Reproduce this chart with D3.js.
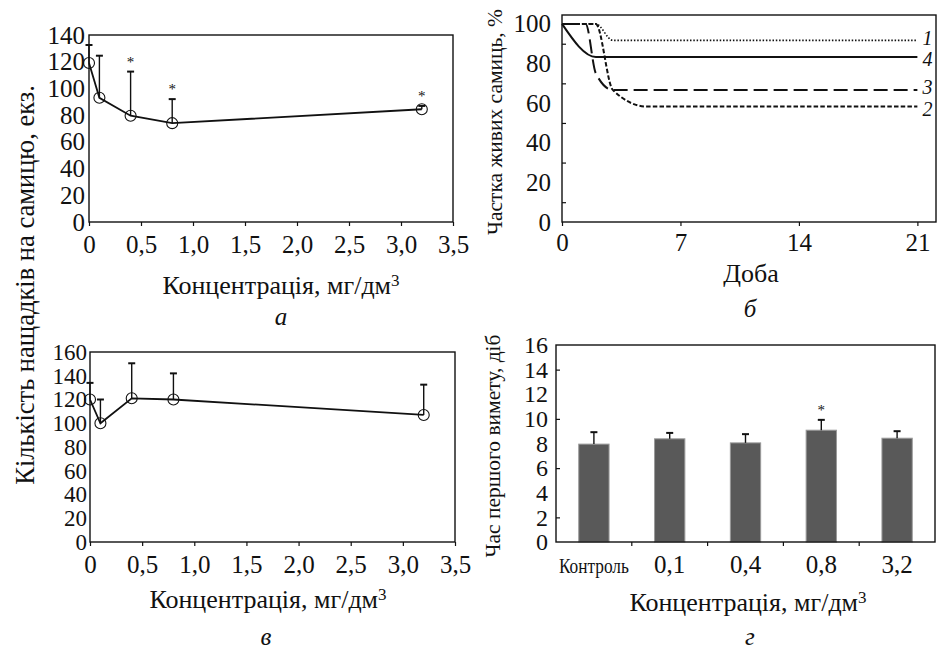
<!DOCTYPE html>
<html>
<head>
<meta charset="utf-8">
<script src="https://cdn.jsdelivr.net/npm/d3@7"></script>
<style>
	body { margin: 0; background: #fff; }
	text { font-family: "Liberation Serif", "DejaVu Serif", serif; fill: #111; }
</style>
</head>
<body>
<script>
// panel а: offspring per female vs concentration
var concA = [0, 0.1, 0.4, 0.8, 3.2],
	offspringA = [119, 93, 79.6, 74, 84.4],
	offspringErrA = [13.5, 31.5, 33, 18, 2.5],
	signifA = [0, 0, 1, 1, 1];

// panel в
var concC = [0, 0.1, 0.4, 0.8, 3.2],
	offspringC = [120, 100, 121, 120, 107],
	offspringErrC = [14, 20, 29.5, 22, 25.5],
	signifC = [0, 0, 0, 0, 0];

// panel б: survival of females, %
var survNames = ["1", "2", "3", "4"],
	survDays1 = [0, 2, 3, 21], surv1 = [100, 100, 91.7, 91.7],
	survDays2 = [0, 2, 3, 5, 21], surv2 = [100, 100, 66.7, 58.3, 58.3],
	survDays3 = [0, 1.4, 2, 3, 21], surv3 = [100, 100, 75, 66.7, 66.7],
	survDays4 = [0, 2, 21], surv4 = [100, 83.3, 83.3];

// panel г: time to first brood, days
var doseLabels = ["Контроль", "0,1", "0,4", "0,8", "3,2"],
	firstBrood = [7.95, 8.38, 8.05, 9.08, 8.43],
	firstBroodErr = [0.97, 0.48, 0.71, 0.84, 0.57],
	signifD = [0, 0, 0, 1, 0];

var concTicks = [0, 0.5, 1, 1.5, 2, 2.5, 3, 3.5],
	dayTicks = [0, 7, 14, 21];

var tickSize = 25, titleSize = 26;

var svg = d3.select("body").append("svg")
	.attr("width", 937)
	.attr("height", 653);

var comma = d => d === 0 ? "0" : d3.format(".1f")(d).replace(".", ",");

function frame(g, box) {
	g.append("rect")
		.attr("x", box.l).attr("y", box.t)
		.attr("width", box.r - box.l).attr("height", box.b - box.t)
		.attr("fill", "none").attr("stroke", "#111").attr("stroke-width", 1.4);
}

function styleTicks(sel, size) {
	sel.attr("font-family", null);
	sel.select(".domain").remove();
	sel.selectAll(".tick line").attr("stroke", "#111").attr("stroke-width", 1.2);
	sel.selectAll(".tick text").attr("font-size", size || tickSize).attr("fill", "#111");
}

function axisTitle(g, x, y, label, sup) {
	var t = g.append("text")
		.attr("x", x).attr("y", y)
		.attr("text-anchor", "middle")
		.attr("font-size", titleSize)
		.text(label);
	if (sup) t.append("tspan").attr("dy", "-0.5em").attr("font-size", 17).text(sup);
}

function panelLetter(g, x, y, s) {
	g.append("text")
		.attr("x", x).attr("y", y)
		.attr("text-anchor", "middle")
		.attr("font-size", 25)
		.attr("font-style", "italic")
		.text(s);
}

function concPanel(box, yMax, conc, vals, errs, signif, ypad) {
	var g = svg.append("g");

	var x = d3.scaleLinear().domain([0, 3.5]).range([box.l, box.r]),
		y = d3.scaleLinear().domain([0, yMax]).range([box.b, box.t]);

	// keep tick labels from overlapping when the spacing is tight
	var ySize = Math.min(tickSize, Math.floor(y(0) - y(20)));

	g.append("g")
		.attr("transform", "translate(0," + box.b + ")")
		.call(d3.axisBottom(x).tickValues(concTicks).tickSize(4).tickPadding(9).tickFormat(comma))
		.call(s => styleTicks(s));

	g.append("g")
		.attr("transform", "translate(" + box.l + ",0)")
		.call(d3.axisLeft(y).tickValues(d3.range(0, yMax + 1, 20)).tickSize(0).tickPadding(ypad))
		.call(s => styleTicks(s, ySize));

	frame(g, box);

	var pts = conc.map((c, i) => ({c: c, v: vals[i], e: errs[i], s: signif[i]}));

	var err = g.selectAll(".err").data(pts).enter().append("g")
		.attr("stroke", "#111").attr("stroke-width", 1.4);
	err.append("line")
		.attr("x1", d => x(d.c)).attr("x2", d => x(d.c))
		.attr("y1", d => y(d.v)).attr("y2", d => y(d.v + d.e));
	err.append("line")
		.attr("x1", d => x(d.c) - 3.5).attr("x2", d => x(d.c) + 3.5)
		.attr("y1", d => y(d.v + d.e)).attr("y2", d => y(d.v + d.e))
		.attr("stroke-width", 2);

	g.append("path")
		.datum(pts)
		.attr("fill", "none").attr("stroke", "#111").attr("stroke-width", 1.8)
		.attr("d", d3.line().x(d => x(d.c)).y(d => y(d.v)));

	g.selectAll(".pt").data(pts).enter().append("circle")
		.attr("cx", d => x(d.c)).attr("cy", d => y(d.v)).attr("r", 5.5)
		.attr("fill", "none").attr("stroke", "#111").attr("stroke-width", 1.1);

	g.selectAll(".star").data(pts.filter(d => d.s)).enter().append("text")
		.attr("x", d => x(d.c)).attr("y", d => y(d.v + d.e) - 5)
		.attr("text-anchor", "middle").attr("font-size", 15)
		.attr("fill", "#111")
		.text("*");
}

// а
concPanel({l: 89, r: 453, t: 35, b: 222}, 140, concA, offspringA, offspringErrA, signifA, 4);
axisTitle(svg, 281, 294, "Концентрація, мг/дм", "3");
panelLetter(svg, 281, 325, "а");

// в
concPanel({l: 90, r: 455, t: 352, b: 542}, 160, concC, offspringC, offspringErrC, signifC, 3);
axisTitle(svg, 268, 608, "Концентрація, мг/дм", "3");
panelLetter(svg, 266, 645, "в");

// shared y title of а and в
svg.append("text")
	.attr("transform", "translate(25,285) rotate(-90)")
	.attr("text-anchor", "middle")
	.attr("dominant-baseline", "central")
	.attr("font-size", 26.5)
	.text("Кількість нащадків на самицю, екз.");

// б
(function() {
	var box = {l: 562, r: 936, t: 15, b: 222};
	var g = svg.append("g");
	var x = d3.scaleLinear().domain([0, 22.1]).range([box.l, box.r]),
		y = d3.scaleLinear().domain([0, 104.5]).range([box.b, box.t]);

	g.append("g")
		.attr("transform", "translate(0," + box.b + ")")
		.call(d3.axisBottom(x).tickValues(dayTicks).tickSize(4).tickPadding(7))
		.call(s => styleTicks(s));

	g.append("g")
		.attr("transform", "translate(" + box.l + ",0)")
		.call(d3.axisLeft(y).tickValues(d3.range(0, 101, 20)).tickSize(0).tickPadding(11))
		.call(s => styleTicks(s));

	g.append("g")
		.attr("transform", "translate(" + box.l + ",0)")
		.call(d3.axisLeft(y).tickValues(d3.range(10, 100, 20)).tickSize(-4).tickFormat(""))
		.call(s => styleTicks(s));

	frame(g, box);

	var series = [
		{name: survNames[0], days: survDays1, vals: surv1, dash: "1.5,1.8", w: 1.6, dy: -2},
		{name: survNames[1], days: survDays2, vals: surv2, dash: "4.5,2.2", w: 2, dy: 2},
		{name: survNames[2], days: survDays3, vals: surv3, dash: "14,6", w: 2, dy: -3},
		{name: survNames[3], days: survDays4, vals: surv4, dash: null, w: 2, dy: 2}
	];

	var line = d3.line().curve(d3.curveMonotoneX)
		.x(d => x(d[0])).y(d => y(d[1]));

	series.forEach(function(s) {
		var pts = s.days.map((d, i) => [d, s.vals[i]]);
		g.append("path")
			.datum(pts)
			.attr("fill", "none").attr("stroke", "#111")
			.attr("stroke-width", s.w)
			.attr("stroke-dasharray", s.dash)
			.attr("d", line);
		g.append("text")
			.attr("x", x(21) + 5)
			.attr("y", y(s.vals[s.vals.length - 1]) + s.dy)
			.attr("dominant-baseline", "central")
			.attr("font-size", 20).attr("font-style", "italic")
			.text(s.name);
	});

	svg.append("text")
		.attr("transform", "translate(495,122) rotate(-90)")
		.attr("text-anchor", "middle")
		.attr("dominant-baseline", "central")
		.attr("font-size", 21.5)
		.text("Частка живих самиць, %");

	axisTitle(svg, 751, 282, "Доба");
	panelLetter(svg, 750, 317, "б");
})();

// г
(function() {
	var box = {l: 556, r: 935, t: 345, b: 542};
	var g = svg.append("g");
	var x = d3.scaleBand().domain(doseLabels).range([box.l, box.r]).paddingInner(0.6).paddingOuter(0.3),
		y = d3.scaleLinear().domain([0, 16]).range([box.b, box.t]);

	g.append("g")
		.attr("transform", "translate(" + box.l + ",0)")
		.call(d3.axisLeft(y).tickValues(d3.range(0, 17, 2)).tickSize(0).tickPadding(8))
		.call(s => styleTicks(s, 24));

	g.append("g")
		.attr("transform", "translate(" + box.l + ",0)")
		.call(d3.axisLeft(y).tickValues([2, 6, 10, 14]).tickSize(-4).tickFormat(""))
		.call(s => styleTicks(s));

	// category ticks between bars
	var step = (box.r - box.l) / doseLabels.length;
	g.selectAll(".ctick").data(doseLabels.slice(1)).enter().append("line")
		.attr("x1", (d, i) => box.l + step * (i + 1)).attr("x2", (d, i) => box.l + step * (i + 1))
		.attr("y1", box.b).attr("y2", box.b + 4)
		.attr("stroke", "#111").attr("stroke-width", 1.2);

	g.selectAll(".clab").data(doseLabels).enter().append("text")
		.attr("x", d => x(d) + x.bandwidth() / 2)
		.attr("y", 573)
		.attr("text-anchor", "middle")
		.attr("font-size", d => d === "Контроль" ? 21 : tickSize)
		.attr("textLength", d => d === "Контроль" ? 70 : null)
		.attr("lengthAdjust", "spacingAndGlyphs")
		.text(d => d);

	var bars = doseLabels.map((d, i) => ({k: d, v: firstBrood[i], e: firstBroodErr[i], s: signifD[i]}));

	g.selectAll(".bar").data(bars).enter().append("rect")
		.attr("x", d => x(d.k)).attr("width", x.bandwidth())
		.attr("y", d => y(d.v)).attr("height", d => y(0) - y(d.v))
		.attr("fill", "#595959").attr("stroke", "#9a9a9a").attr("stroke-width", 1);

	var err = g.selectAll(".err").data(bars).enter().append("g")
		.attr("stroke", "#111").attr("stroke-width", 1.4);
	err.append("line")
		.attr("x1", d => x(d.k) + x.bandwidth() / 2).attr("x2", d => x(d.k) + x.bandwidth() / 2)
		.attr("y1", d => y(d.v)).attr("y2", d => y(d.v + d.e));
	err.append("line")
		.attr("x1", d => x(d.k) + x.bandwidth() / 2 - 3.5).attr("x2", d => x(d.k) + x.bandwidth() / 2 + 3.5)
		.attr("y1", d => y(d.v + d.e)).attr("y2", d => y(d.v + d.e))
		.attr("stroke-width", 2);

	g.selectAll(".star").data(bars.filter(d => d.s)).enter().append("text")
		.attr("x", d => x(d.k) + x.bandwidth() / 2).attr("y", d => y(d.v + d.e) - 5)
		.attr("text-anchor", "middle").attr("font-size", 15)
		.attr("fill", "#111")
		.text("*");

	frame(g, box);

	svg.append("text")
		.attr("transform", "translate(493,446) rotate(-90)")
		.attr("text-anchor", "middle")
		.attr("dominant-baseline", "central")
		.attr("font-size", 21.5)
		.text("Час першого вимету, діб");

	axisTitle(svg, 748, 611, "Концентрація, мг/дм", "3");
	panelLetter(svg, 750, 645, "г");
})();
</script>
</body>
</html>
